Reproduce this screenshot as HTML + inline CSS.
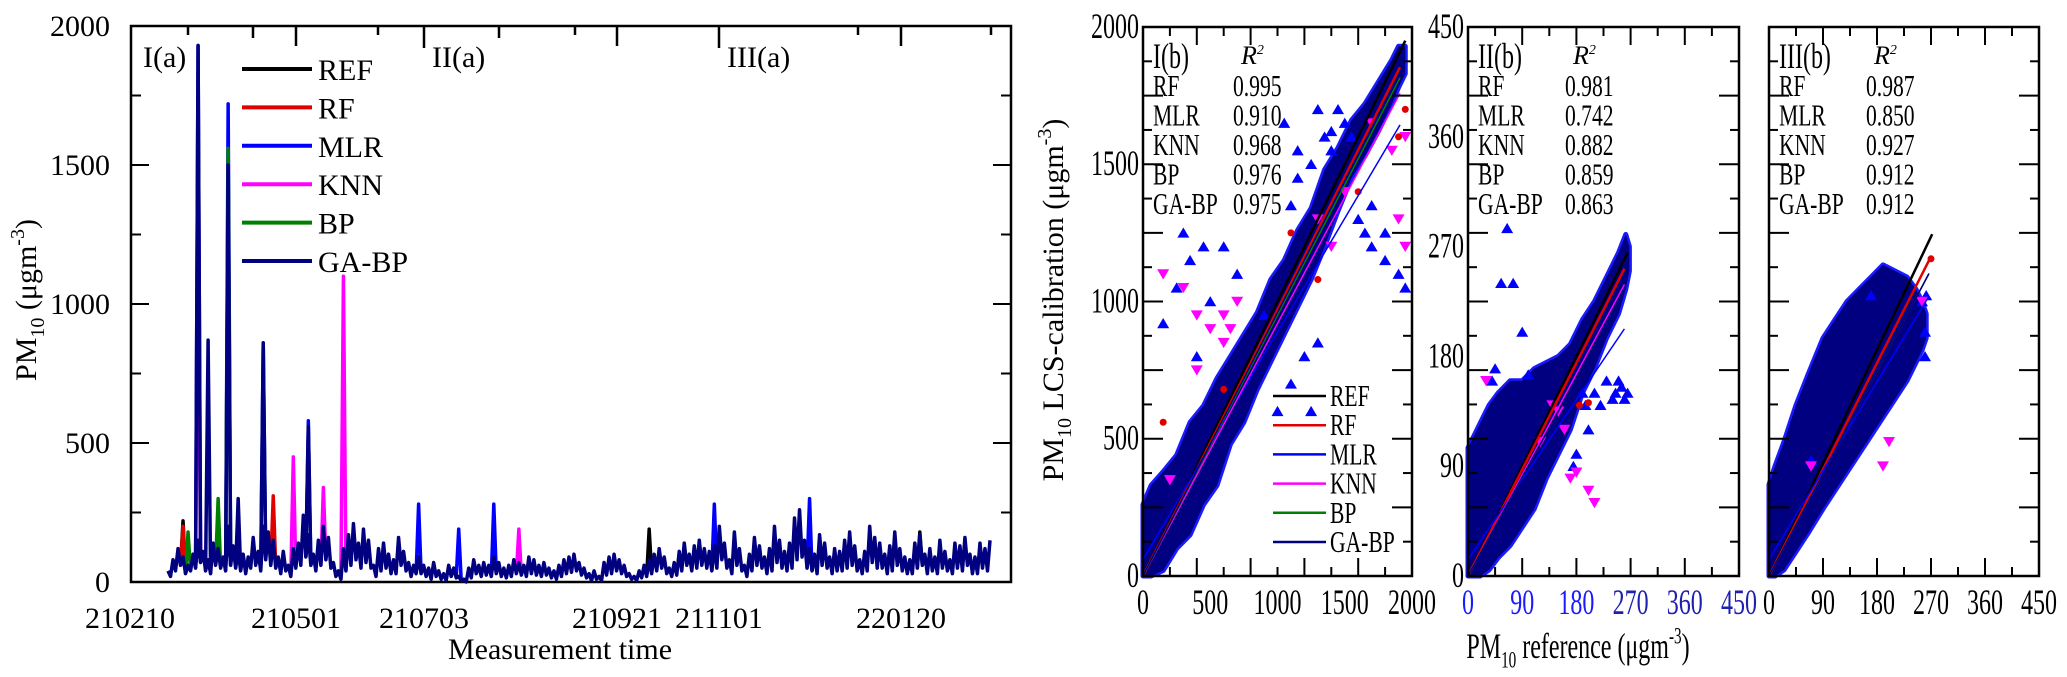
<!DOCTYPE html>
<html><head><meta charset="utf-8"><style>
html,body{margin:0;padding:0;background:#fff;}
svg{display:block;font-family:"Liberation Serif",serif;}
</style></head><body>
<svg id="fig" width="2067" height="677" viewBox="0 0 2067 677" xmlns="http://www.w3.org/2000/svg">
<g id="left"></g>
<g id="right"></g>
</svg>
<script>
// ---------- time series data ----------
const tsBase = [40,80,120,90,60,100,150,110,80,140,120,90,200,130,110,100,90,160,110,200,180,150,90,110,60,120,140,240,170,100,150,200,160,70,40,120,170,210,140,190,150,60,120,140,100,80,160,110,70,60,
90,60,50,70,40,30,60,50,20,10,50,80,60,70,60,90,70,50,60,80,70,60,90,80,60,70,50,40,60,80,90,100,70,50,30,40,20,70,90,100,80,60,30,20,40,60,80,100,120,90,50,70,110,140,100,130,150,120,110,130,
200,140,80,180,120,60,100,160,130,90,120,200,150,110,140,230,260,150,120,100,170,140,90,120,110,150,180,130,80,110,200,160,140,100,130,180,120,90,80,140,170,100,120,90,150,110,80,140,130,160,100,90,140,120,150];
const tsLow = [20,40,60,30,40,50,70,40,30,60,50,40,60,50,40,30,50,60,40,80,60,50,30,40,20,50,60,90,60,40,60,80,50,20,10,40,60,80,50,70,50,20,40,50,30,30,60,40,20,30,
30,20,10,20,10,5,20,15,5,0,15,30,20,25,20,30,20,15,20,30,25,20,30,25,20,25,15,10,20,30,35,40,25,15,5,10,5,25,30,40,30,20,10,5,15,20,30,40,50,30,20,25,40,60,40,50,60,50,40,50,
80,50,30,60,40,20,40,60,50,30,40,70,50,40,50,80,90,50,40,30,60,50,30,40,40,50,60,40,30,40,70,50,50,30,40,60,40,30,30,50,60,30,40,30,50,40,30,50,40,60,30,30,50,40,50];
const spikesREF = [[3,220],[96,190],[150,180]];
const spikesRF = [[21,310],[3,200]];
const spikesMLR = [[6,1930],[12,1720],[19,860],[28,580],[50,280],[65,280],[109,280],[128,300],[58,190]];
const spikesKNN = [[6,1300],[25,450],[31,340],[35,1100],[70,190]];
const spikesBP = [[12,1560],[10,300],[4,180]];
const spikesGABP = [[6,1930],[8,870],[12,1500],[19,860],[28,560],[14,300]];
const tsXLabels = ["210210","210501","210703","210921","211101","220120"];
const tsXLabelPos = [130,296,424,617,719,901];
const tsYTicks = [0,500,1000,1500,2000];

// ---------- scatter data ----------
const panels = [
 {name:"I(b)", max:2000, ticks:[0,500,1000,1500,2000], left:1143, right:1412, r2:["0.995","0.910","0.968","0.976","0.975"],
  cloudX:[0,60,150,250,350,450,550,650,750,850,950,1050,1150,1250,1350,1450,1550,1650,1750,1850,1900,1950],
  cloudLo:[0,0,20,100,150,260,330,480,560,680,780,880,980,1080,1200,1330,1450,1530,1620,1720,1780,1830],
  cloudHi:[260,330,380,440,560,620,720,800,880,960,1080,1150,1260,1340,1480,1560,1660,1720,1800,1880,1930,1930],
  mlrPts:[[150,920],[250,1050],[300,1250],[350,1150],[450,1200],[600,1200],[700,1100],[1050,1650],[1150,1550],[1300,1700],[1400,1620],[1500,1650],[1450,1700],[1350,1600],[1550,1600],[1250,1500],[1700,1350],[1800,1250],[1900,1100],[1950,1050],[1600,1300],[1200,800],[1300,850],[1100,700],[1250,600],[900,950],[400,800],[500,1000],[1000,600],[1150,1450],[1100,1350],[1400,1550],[1800,1150],[1700,1200],[1650,1250]],
  knnPts:[[150,1100],[300,1050],[400,950],[500,900],[600,850],[700,1000],[400,750],[1300,1300],[1500,1400],[1700,1650],[1950,1600],[1900,1300],[1950,1200],[200,350],[1400,1200],[600,950],[650,900],[1850,1550]],
  rfPts:[[150,560],[600,680],[1100,1250],[1300,1080],[1900,1600],[1950,1700],[1600,1400]],
  slopes:[1.0,0.97,0.86,0.92,0.95,0.96], fitMax:1950},
 {name:"II(b)", max:450, ticks:[0,90,180,270,360,450], left:1468, right:1739, r2:["0.981","0.742","0.882","0.859","0.863"],
  cloudX:[0,10,20,35,50,70,90,110,130,150,170,190,210,230,250,262,268],
  cloudLo:[0,0,0,5,15,25,40,55,80,100,120,150,170,195,215,235,250],
  cloudHi:[105,115,125,140,150,160,160,170,175,180,190,210,225,245,265,280,270],
  mlrPts:[[65,285],[55,240],[75,240],[90,200],[45,170],[40,160],[100,165],[190,150],[210,150],[230,160],[255,155],[265,150],[240,145],[220,140],[200,120],[180,100],[175,90],[250,160],[260,145],[245,150],[195,140]],
  knnPts:[[30,160],[150,135],[160,120],[170,80],[210,60],[200,70],[140,140],[180,85],[120,110]],
  rfPts:[[185,140],[200,142]],
  slopes:[1.0,0.97,0.78,0.92,0.9,0.9], fitMax:265},
 {name:"III(b)", max:450, ticks:[0,90,180,270,360,450], left:1769, right:2039, r2:["0.987","0.850","0.927","0.912","0.912"],
  cloudX:[0,10,25,45,65,90,110,130,150,170,190,210,230,245,255,262],
  cloudLo:[0,0,5,20,35,55,70,85,100,115,130,145,160,175,185,195],
  cloudHi:[75,90,110,140,165,195,210,225,235,245,255,250,245,235,225,215],
  mlrPts:[[260,200],[262,230],[255,225],[170,230],[70,95],[260,180]],
  knnPts:[[255,225],[200,110],[190,90],[70,90]],
  rfPts:[[270,260]],
  slopes:[1.03,0.97,0.86,0.93,0.93,0.93], fitMax:272}
];
const seriesNames = ["REF","RF","MLR","KNN","BP","GA-BP"];
const seriesColors = ["#000000","#e00000","#0000ff","#ff00ff","#008000","#000080"];

const NS="http://www.w3.org/2000/svg";
function mk(tag,parent,attrs){const e=document.createElementNS(NS,tag);for(const k in attrs)e.setAttribute(k,attrs[k]);parent.appendChild(e);return e;}

// ================= LEFT CHART =================
const L=document.getElementById('left');
const lx0=131,lx1=1011,ly0=26,ly1=582;
const tsY=v=>ly1-(v/2000)*(ly1-ly0);
const tsStart=168,tsEnd=990;
const tsX=i=>tsStart+i*(tsEnd-tsStart)/(tsBase.length-1);

let frame=mk('rect',L,{x:lx0,y:ly0,width:lx1-lx0,height:ly1-ly0,fill:'none',stroke:'#000','stroke-width':2.5});

for(let v=0;v<=2000;v+=250){
  const y=tsY(v),len=(v%500===0)?18:10;
  const t1=mk('line',L,{x1:lx0,x2:lx0+len,y1:y,y2:y,stroke:'#000','stroke-width':2});
  
  const t2=mk('line',L,{x1:lx1,x2:lx1-len,y1:y,y2:y,stroke:'#000','stroke-width':2});
  
}
tsYTicks.forEach(v=>{const t=mk('text',L,{x:110,y:tsY(v)+10,'text-anchor':'end','font-size':30});t.textContent=v;
  });
[[188,9],[253,12],[296,20],[378,9],[424,22],[499,12],[575,9],[617,20],[719,22],[858,9],[901,20],[991,9]].forEach(a=>{
  const t=mk('line',L,{x1:a[0],x2:a[0],y1:ly0,y2:ly0+a[1],stroke:'#000','stroke-width':2.5});
  });
tsXLabels.forEach((s,i)=>{const t=mk('text',L,{x:tsXLabelPos[i],y:628,'text-anchor':'middle','font-size':30});t.textContent=s;
  });
let xt=mk('text',L,{x:560,y:659,'text-anchor':'middle','font-size':30});xt.textContent='Measurement time';

let yt=mk('text',L,{transform:'translate(36,300) rotate(-90)','text-anchor':'middle','font-size':30});
yt.innerHTML='PM<tspan font-size="20" dy="8">10</tspan><tspan dy="-8"> (μgm</tspan><tspan font-size="20" dy="-12">-3</tspan><tspan dy="12">)</tspan>';

[["I(a)",143],["II(a)",432],["III(a)",727]].forEach(a=>{const t=mk('text',L,{x:a[1],y:67,'font-size':30});t.textContent=a[0];
  });

function spikeLines(arr,color,name){
  arr.forEach(s=>{const i=s[0];
    const pts=[[tsX(i-0.5),tsY(tsLow[Math.max(0,i-1)])],[tsX(i),tsY(s[1])],[tsX(i+0.5),tsY(tsLow[i])]];
    const p=mk('polyline',L,{points:pts.map(q=>q.join(',')).join(' '),fill:'none',stroke:color,'stroke-width':3.5,'stroke-linejoin':'round'});
    });
}
spikeLines(spikesREF,seriesColors[0],'ref-spike');
spikeLines(spikesRF,seriesColors[1],'rf-spike');
spikeLines(spikesMLR,seriesColors[2],'mlr-spike');
spikeLines(spikesKNN,seriesColors[3],'knn-spike');
spikeLines(spikesBP,seriesColors[4],'bp-spike');
// GA-BP line: alternate high/low samples
let gaPts=[];
tsBase.forEach((v,i)=>{gaPts.push([tsX(i),tsY(v)]);if(i<tsBase.length-1)gaPts.push([tsX(i+0.5),tsY(tsLow[i])]);});
let baseLine=mk('polyline',L,{points:gaPts.map(q=>q.join(',')).join(' '),fill:'none',stroke:'#000080','stroke-width':3.5,'stroke-linejoin':'round'});

spikeLines(spikesGABP,seriesColors[5],'ga-bp-spike');
seriesNames.forEach((n,k)=>{const y=69+k*38.4;
  const l=mk('line',L,{x1:242,x2:312,y1:y,y2:y,stroke:seriesColors[k],'stroke-width':4});
  
  const t=mk('text',L,{x:318,y:y+11,'font-size':30});t.textContent=n;
  });

// ================= RIGHT PANELS =================
const R=document.getElementById('right');
const py0=27,py1=576;
function tri(cx,cy,s,down){return down?`${cx-s},${cy-s*0.8} ${cx+s},${cy-s*0.8} ${cx},${cy+s*0.9}`:`${cx-s},${cy+s*0.8} ${cx+s},${cy+s*0.8} ${cx},${cy-s*0.9}`;}
panels.forEach((P,pi)=>{
  const g=mk('g',R,{});
  const sx=v=>P.left+v/P.max*(P.right-P.left);
  const sy=v=>py1-v/P.max*(py1-py0);
  const top=P.cloudX.map((x,i)=>[sx(x),sy(P.cloudHi[i])]);
  const bot=P.cloudX.map((x,i)=>[sx(x),sy(P.cloudLo[i])]).reverse();
  const halo=mk('polygon',g,{points:top.concat(bot).map(q=>q.join(',')).join(' '),fill:'#0000ff',stroke:'#1a1aff','stroke-width':5,'stroke-linejoin':'round'});
  
  const cl=mk('polygon',g,{points:top.concat(bot).map(q=>q.join(',')).join(' '),fill:'#000080'});
  
  P.mlrPts.forEach(p=>{const m=mk('polygon',g,{points:tri(sx(p[0]),sy(p[1]),6,false),fill:'#0000ff'});
    });
  P.knnPts.forEach(p=>{const m=mk('polygon',g,{points:tri(sx(p[0]),sy(p[1]),6,true),fill:'#ff00ff'});
    });
  P.rfPts.forEach(p=>{const m=mk('circle',g,{cx:sx(p[0]),cy:sy(p[1]),r:3.5,fill:'#e00000'});
    });
  P.slopes.forEach((s,k)=>{const x2=P.fitMax*(k===0?1:0.98);
    const l=mk('line',g,{x1:sx(0),y1:sy(k===2?P.max*0.03:0),x2:sx(x2),y2:sy(x2*s),stroke:seriesColors[k],'stroke-width':k<2?2.5:1.5});
    });
  const f=mk('rect',g,{x:P.left,y:py0,width:P.right-P.left,height:py1-py0,fill:'none',stroke:'#000','stroke-width':2.5});
  
  const step=P.max/16;
  for(let k=0;k<=16;k++){const y=sy(k*step),len=(k%2===0)?20:9;
    const a=mk('line',g,{x1:P.left,x2:P.left+len,y1:y,y2:y,stroke:'#000','stroke-width':2});
    
    const b=mk('line',g,{x1:P.right,x2:P.right-len,y1:y,y2:y,stroke:'#000','stroke-width':2});
    }
  for(let k=0;k<=10;k++){const x=sx(k*P.max/10),len=(k%2===0)?18:9;
    const a=mk('line',g,{x1:x,x2:x,y1:py1,y2:py1-len,stroke:'#000','stroke-width':2});
    
    const b=mk('line',g,{x1:x,x2:x,y1:py0,y2:py0+len,stroke:'#000','stroke-width':2});
    }
  P.ticks.forEach((v,k)=>{
    const col=pi===1?(k<3?'#1a1aff':'#2020b0'):'#000';
    const t=mk('text',g,{x:sx(v),y:614,'text-anchor':'middle','font-size':30,fill:col,transform:`translate(${sx(v)},614) scale(0.8,1.2) translate(${-sx(v)},-614)`});t.textContent=v;
    
    if(pi<2){const yy=sy(v)+11;const ty=mk('text',g,{x:P.left-4,y:yy,'text-anchor':'end','font-size':30,transform:`translate(${P.left-4},${yy}) scale(0.8,1.2) translate(${-(P.left-4)},${-yy})`});ty.textContent=v;
      }
  });
  const tx=P.left+10, vx=P.left+(pi===0?90:97);
  const hl=mk('text',g,{x:tx,y:68,'font-size':30,transform:`translate(${tx},68) scale(0.8,1.2) translate(${-tx},-68)`});hl.textContent=P.name;
  
  const r2=mk('text',g,{x:vx+8,y:64,'font-size':26,'font-style':'italic'});r2.innerHTML='R<tspan font-size="14" dy="-10">2</tspan>';
  
  ["RF","MLR","KNN","BP","GA-BP"].forEach((n,k)=>{const y=96+k*29.5;
    const a=mk('text',g,{x:tx,y:y,'font-size':27,transform:`translate(${tx},${y}) scale(0.8,1.15) translate(${-tx},${-y})`});a.textContent=n;
    
    const b=mk('text',g,{x:vx,y:y,'font-size':27,transform:`translate(${vx},${y}) scale(0.8,1.15) translate(${-vx},${-y})`});b.textContent=P.r2[k];
    });
});
seriesNames.forEach((n,k)=>{const y=396+k*29.2;
  const l=mk('line',R,{x1:1273,x2:1326,y1:y,y2:y,stroke:seriesColors[k],'stroke-width':2.5});
  
  const t=mk('text',R,{x:1330,y:y+10,'font-size':27,transform:`translate(1330,${y+10}) scale(0.8,1.15) translate(-1330,${-(y+10)})`});t.textContent=n;
  });
let ryt=mk('text',R,{transform:'translate(1063,300) rotate(-90)','text-anchor':'middle','font-size':30});
ryt.innerHTML='PM<tspan font-size="20" dy="8">10</tspan><tspan dy="-8"> LCS-calibration (μgm</tspan><tspan font-size="20" dy="-12">-3</tspan><tspan dy="12">)</tspan>';

let rxt=mk('text',R,{x:1578,y:658,'text-anchor':'middle','font-size':30,transform:'translate(1578,658) scale(0.8,1.2) translate(-1578,-658)'});
rxt.innerHTML='PM<tspan font-size="19" dy="8">10</tspan><tspan dy="-8"> reference (μgm</tspan><tspan font-size="19" dy="-12">-3</tspan><tspan dy="12">)</tspan>';

</script>
</body></html>
